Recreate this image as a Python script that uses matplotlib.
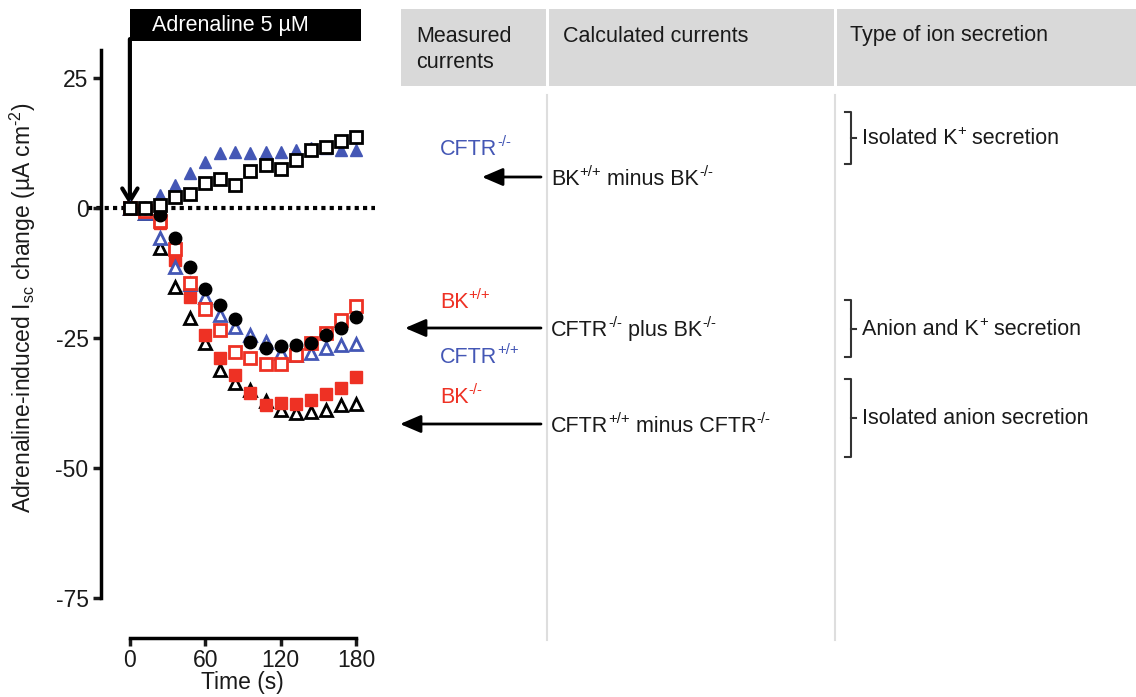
import numpy as np
import matplotlib
matplotlib.use('Agg')
import matplotlib.pyplot as plt
from matplotlib.patches import Rectangle, FancyArrowPatch
from matplotlib.lines import Line2D

plt.rcParams['font.family'] = ['Liberation Sans', 'DejaVu Sans']
plt.rcParams['mathtext.fontset'] = 'custom'
plt.rcParams['mathtext.rm'] = 'Liberation Sans'
plt.rcParams['mathtext.it'] = 'Liberation Sans:italic'
plt.rcParams['mathtext.bf'] = 'Liberation Sans:bold'
plt.rcParams['axes.unicode_minus'] = False

# data (uA cm-2, every 12 s)
time_s = [0, 12, 24, 36, 48, 60, 72, 84, 96, 108, 120, 132, 144, 156, 168, 180]
cftr_ko = [0, 0, 2.5, 4.4, 6.7, 8.9, 10.5, 10.7, 10.5, 10.7, 10.8, 11.2, 11.5, 11.5, 11.2, 11.2]
bk_diff = [0, 0, 0.5, 2.2, 2.7, 4.9, 5.5, 4.4, 7.2, 8.3, 7.6, 9.2, 11.2, 11.8, 12.9, 13.6]
bk_wt = [0, -0.5, -2.5, -7.8, -14.5, -19.5, -23.5, -27.6, -28.9, -29.9, -29.9, -28.3, -25.9, -24.1, -21.5, -18.8]
cftr_wt = [0, -1, -5.8, -11.3, -14.6, -17.1, -20.6, -22.9, -24.4, -25.7, -27.9, -28.3, -27.9, -27.0, -26.3, -26.2]
bk_ko = [0, -0.5, -2.9, -10.0, -17.2, -24.4, -28.9, -32.1, -35.6, -37.9, -37.4, -37.6, -36.9, -35.8, -34.7, -32.4]
cftr_ko_plus_bk_ko = [0, 0, -1.3, -5.8, -11.4, -15.6, -18.7, -21.4, -25.7, -27.0, -26.5, -26.3, -25.9, -24.4, -23.1, -21.0]
cftr_diff = [0, -1, -7.7, -15.1, -21.2, -26.0, -31.2, -33.7, -35.0, -37.2, -38.8, -39.5, -39.2, -38.8, -37.9, -37.6]

RED = '#ee3124'
BLUE = '#4457b5'
TXT = '#1a1a1a'
W, H = 1136, 697

def fx(x):
    return x / W

def fy(y):
    return 1 - y / H

fig = plt.figure(figsize=(W / 100, H / 100), dpi=100)
ax = fig.add_axes([101 / W, 99 / H, 267.5 / W, 548 / H])
renderer = fig.canvas.get_renderer()

# text with superscripts, x/y in pixels from top-left, y = middle of capitals
def rich(x, y, parts, size=15.5, color=TXT):
    px = size * 100 / 72
    base = y + 0.36 * px
    cx = x
    for s, sup in parts:
        if sup:
            t = fig.text(fx(cx), fy(base - 0.42 * px), s, fontsize=size * 0.7, color=color, va='baseline')
        else:
            t = fig.text(fx(cx), fy(base), s, fontsize=size, color=color, va='baseline')
        bb = t.get_window_extent(renderer=renderer)
        cx = bb.x1

# y=0 dotted line
ax.plot([-33, 195], [0, 0], color='black', lw=3, linestyle=(0, (1, 1)), clip_on=False, zorder=1)

ms = 9
ax.plot(time_s, cftr_diff, '^', ms=ms, mfc='white', mec='black', mew=2, ls='none', clip_on=False, zorder=3)
ax.plot(time_s, bk_ko, 's', ms=ms, mfc=RED, mec=RED, mew=1, ls='none', clip_on=False, zorder=4)
ax.plot(time_s, cftr_wt, '^', ms=ms, mfc='white', mec=BLUE, mew=2, ls='none', clip_on=False, zorder=5)
ax.plot(time_s, bk_wt, 's', ms=ms, mfc='white', mec=RED, mew=2, ls='none', clip_on=False, zorder=6)
ax.plot(time_s, cftr_ko_plus_bk_ko, 'o', ms=ms, mfc='black', mec='black', ls='none', clip_on=False, zorder=7)
ax.plot(time_s, cftr_ko, '^', ms=ms, mfc=BLUE, mec=BLUE, ls='none', clip_on=False, zorder=8)
ax.plot(time_s, bk_diff, 's', ms=ms, mfc='white', mec='black', mew=2, ls='none', clip_on=False, zorder=9)

ax.set_xlim(-23, 190)
ax.set_ylim(-75, 30.4)
ax.spines['top'].set_visible(False)
ax.spines['right'].set_visible(False)
ax.spines['left'].set_linewidth(2.5)
ax.spines['bottom'].set_linewidth(2.5)
ax.spines['bottom'].set_position(('outward', 29))
ax.spines['bottom'].set_bounds(0, 180)
ax.set_xticks([0, 60, 120, 180])
ax.set_yticks([25, 0, -25, -50, -75])
ax.tick_params(width=2.5, length=6, labelsize=16.5, colors=TXT, pad=3)
ax.tick_params(axis='x', pad=1.5)
ax.set_xlabel('Time (s)', fontsize=16.5, color=TXT)
ax.set_ylabel('Adrenaline-induced I$_{\\mathrm{sc}}$ change (µA cm$^{\\mathrm{\u2010}2}$)', fontsize=16.5, color=TXT)
ax.yaxis.set_label_coords(-0.235, 0.53)
ax.xaxis.set_label_coords(0.53, -0.133)

# adrenaline bar + arrow
ax.add_patch(Rectangle((0, 32.1), 184, 6.2, facecolor='black', edgecolor='none', clip_on=False))
ax.text(17.5, 35.2, 'Adrenaline 5 µM', color='white', fontsize=15.5, va='center', ha='left')
ax.annotate('', xy=(0, 0.6), xytext=(0, 32.5),
            arrowprops=dict(arrowstyle='->,head_length=0.9,head_width=0.55', lw=3, color='black',
                            shrinkA=0, shrinkB=0),
            annotation_clip=False)

# table header
for x0, x1 in [(401, 546), (549, 834), (837, 1136)]:
    fig.add_artist(Rectangle((fx(x0), fy(86)), (x1 - x0) / W, 77 / H, transform=fig.transFigure,
                             facecolor='#d9d9d9', edgecolor='none'))
fig.text(fx(416), fy(36), 'Measured', fontsize=15.5, color=TXT, va='center')
fig.text(fx(416), fy(63), 'currents', fontsize=15.5, color=TXT, va='center')
fig.text(fx(563), fy(36), 'Calculated currents', fontsize=15.5, color=TXT, va='center')
fig.text(fx(850), fy(36), 'Type of ion secretion', fontsize=15.5, color=TXT, va='center')

for xc in [547, 835]:
    fig.add_artist(Line2D([fx(xc), fx(xc)], [fy(95), fy(640)], transform=fig.transFigure,
                          color='#dedede', lw=1.5))

# measured currents labels
rich(440, 147, [('CFTR', False), ('-/-', True)], color=BLUE)
rich(440, 300, [('BK', False), ('+/+', True)], color=RED)
rich(440, 355, [('CFTR', False), ('+/+', True)], color=BLUE)
rich(440, 395, [('BK', False), ('-/-', True)], color=RED)

# calculated currents with arrows
calc = [(177, 482, [('BK', False), ('+/+', True), (' minus BK', False), ('-/-', True)]),
        (328, 405, [('CFTR', False), ('-/-', True), (' plus BK', False), ('-/-', True)]),
        (424, 400, [('CFTR', False), ('+/+', True), (' minus CFTR', False), ('-/-', True)])]
for yc, xend, parts in calc:
    fig.add_artist(FancyArrowPatch((fx(541), fy(yc)), (fx(xend), fy(yc)), transform=fig.transFigure,
                                   arrowstyle='-|>,head_length=0.7,head_width=0.3', mutation_scale=18,
                                   lw=2, color='black', shrinkA=0, shrinkB=0))
    rich(551, yc, parts)

# brackets
brackets = [(112, 164, [('Isolated K', False), ('+', True), (' secretion', False)]),
            (300, 357, [('Anion and K', False), ('+', True), (' secretion', False)]),
            (379, 457, [('Isolated anion secretion', False)])]
for y0, y1, parts in brackets:
    ym = (y0 + y1) / 2
    fig.add_artist(Line2D([fx(845), fx(851), fx(851), fx(845)], [fy(y0), fy(y0), fy(y1), fy(y1)],
                          transform=fig.transFigure, color='#333333', lw=1.5))
    fig.add_artist(Line2D([fx(851), fx(856)], [fy(ym), fy(ym)], transform=fig.transFigure,
                          color='#333333', lw=1.5))
    rich(862, ym - 1.5, parts)

plt.savefig('out.png', dpi=100, facecolor='white')
